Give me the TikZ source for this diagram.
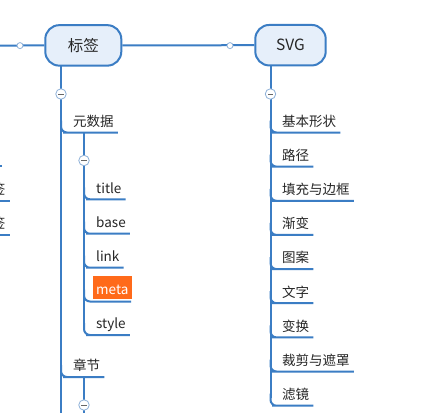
\documentclass[tikz,border=0pt]{standalone}
\usepackage{fontspec}
\setmainfont{Noto Sans CJK SC}
\usetikzlibrary{calc}
\definecolor{lineblue}{HTML}{3B7DC4}
\definecolor{boxfill}{HTML}{E6EFFA}
\definecolor{metaorange}{HTML}{FF6A1A}
\definecolor{circline}{HTML}{8DB0D8}
\newcommand\mmbranch[2]{\draw[br] (#1.south east) -- (#1.south west) -| ($(#2 |- #1.south west)+(0,-12)$);}
\begin{document}
\begin{tikzpicture}[x=1pt,y=-1pt,
  topic/.style={draw=lineblue, line width=2pt, fill=boxfill, rounded corners=14pt,
    font=\fontsize{15.5}{18}\selectfont, text=black!85, minimum height=40.5pt, inner sep=0pt},
  item/.style={font=\fontsize{13.5}{16}\selectfont, text=black!85, inner xsep=4pt,
    inner ysep=3pt, text height=11pt, text depth=3pt, anchor=south west},
  conn/.style={draw=lineblue, line width=2pt},
  br/.style={conn, rounded corners=6pt},
  fold/.style={circle, draw=circline, line width=0.8pt, fill=white, minimum size=10.5pt, inner sep=0pt,
    path picture={\draw[black!60, line width=0.8pt] ([xshift=-2.6pt]path picture bounding box.center) -- ([xshift=2.6pt]path picture bounding box.center);}},
  dot/.style={circle, draw=circline, fill=white, line width=0.8pt, minimum size=6pt, inner sep=0pt}
]
\fill[white] (0,0) rectangle (446,412);
\useasboundingbox (0,0) rectangle (446,412);

% topics
\node[topic, minimum width=76pt] (tag) at (83.3,45.4) {标签};
\node[topic, minimum width=70.4pt] (svg) at (290.5,45.2) {SVG};

% top line
\coordinate (lend) at (0,45.6);
\draw[conn] (lend) -- (tag.west);
\draw[conn] (tag.east) -- (svg.west);
\node[dot] (d1) at (20,45.6) {};
\node[dot] (d2) at (230,45.6) {};

% left trunk
\coordinate (lt) at (61,66);
\coordinate (lb) at (61,413);
\draw[conn] (lt) -- (lb);

% 元数据
\node[item] (md) at (69,132.5) {元数据};
\mmbranch{md}{lt}
\coordinate (st1) at (84,133);
\coordinate (st1b) at (84,330);
\draw[conn] (st1) -- (st1b);
\node[item] (ti) at (92,199.3) {title};
\mmbranch{ti}{st1}
\node[item] (ba) at (92,233.7) {base};
\mmbranch{ba}{st1}
\node[item] (li) at (92,267.7) {link};
\mmbranch{li}{st1}
\node[item, fill=metaorange, text=white, inner xsep=3.3pt, inner ysep=4pt, text height=15pt, text depth=0.5pt] (me) at (92.7,299.5) {meta};
\coordinate (mu) at (131,301.5);
\draw[br] (mu) -| ($(st1 |- mu)+(0,-12)$);
\node[item] (sy) at (92,335) {style};
\mmbranch{sy}{st1}

% 章节
\node[item] (zj) at (69,377) {章节};
\mmbranch{zj}{lt}
\coordinate (st2) at (84,377);
\coordinate (st2b) at (84,413);
\draw[conn] (st2) -- (st2b);

% right trunk
\coordinate (rt) at (270.5,66);
\coordinate (rb) at (270.5,398);
\draw[conn] (rt) -- (rb);
\node[item] (r1) at (278,132.5) {基本形状};
\node[item] (r2) at (278,166.6) {路径};
\node[item] (r3) at (278,200.8) {填充与边框};
\node[item] (r4) at (278,234.9) {渐变};
\node[item] (r5) at (278,269.1) {图案};
\node[item] (r6) at (278,303.2) {文字};
\node[item] (r7) at (278,337.4) {变换};
\node[item] (r8) at (278,371.5) {裁剪与遮罩};
\node[item] (r9) at (278,405.7) {滤镜};
\foreach \n in {r1,r2,r3,r4,r5,r6,r7,r8,r9} {\mmbranch{\n}{rt}}

% cut-off items at the left edge
\node[item, anchor=south east] (c1) at (9.5,201) {签};
\draw[conn] (c1.south west) -- (c1.south east);
\node[item, anchor=south east] (c2) at (9.5,235) {签};
\draw[conn] (c2.south west) -- (c2.south east);
\coordinate (c0a) at (-2,166);
\coordinate (c0b) at (1.5,166);
\draw[conn] (c0a) -- (c0b);

% fold markers
\node[fold] (f1) at (61,94) {};
\node[fold] (f2) at (84,160.5) {};
\node[fold] (f3) at (84,405) {};
\node[fold] (f4) at (270.5,94) {};
\end{tikzpicture}
\end{document}
